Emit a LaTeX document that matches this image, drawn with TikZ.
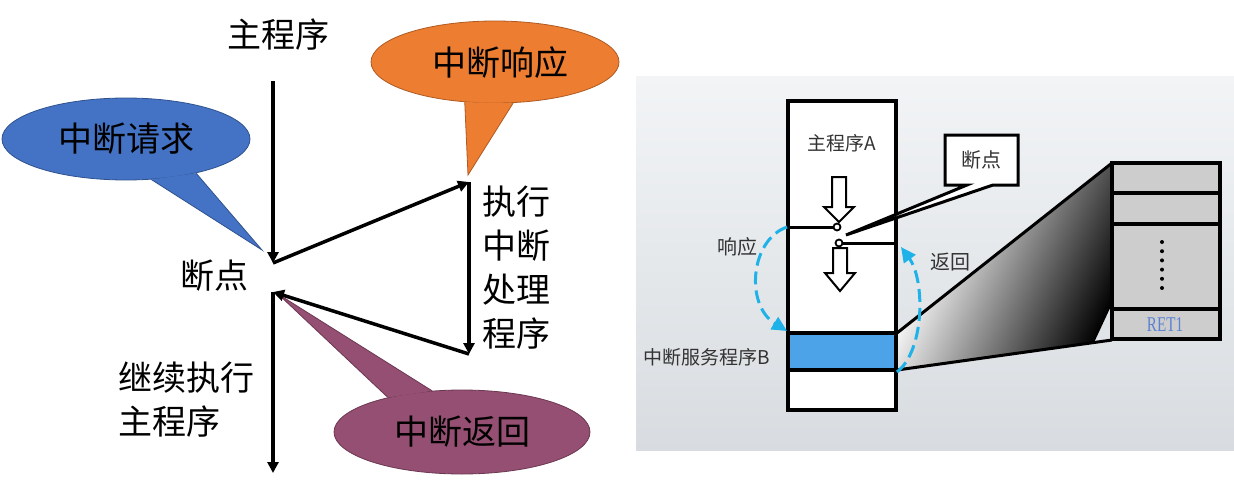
\documentclass[tikz,border=0pt]{standalone}
\usepackage{fontspec}
\setmainfont{Liberation Serif}
\newfontfamily\cjk{Noto Sans CJK SC}
\usetikzlibrary{arrows.meta,shapes.geometric}
\definecolor{bblue}{HTML}{4472C4}
\definecolor{bblueD}{HTML}{2F528F}
\definecolor{borange}{HTML}{ED7D31}
\definecolor{borangeD}{HTML}{AE5A21}
\definecolor{bpurple}{HTML}{954F72}
\definecolor{bpurpleD}{HTML}{6B3852}
\definecolor{isrblue}{HTML}{4DA3E8}
\definecolor{dashcyan}{HTML}{1FB2E8}
\definecolor{stackgray}{HTML}{CDCDCD}
\definecolor{panelTop}{HTML}{F2F4F6}
\definecolor{panelBot}{HTML}{D8DCE0}
\definecolor{rettext}{HTML}{5A82D2}
\definecolor{rtext}{HTML}{333333}
\begin{document}
\begin{tikzpicture}[x=1pt,y=-1pt,
  flow/.style={line width=3.5pt,-{Triangle[length=11pt,width=11pt]}},
  bubble/.style={ellipse,inner sep=0pt,minimum width=248pt,minimum height=82pt,line width=0.8pt,font=\cjk\fontsize{34pt}{40pt}\selectfont},
  bigtext/.style={font=\cjk\fontsize{34pt}{44pt}\selectfont,inner sep=0pt,align=left},
  smalltext/.style={font=\cjk\fontsize{19pt}{22pt}\selectfont,inner sep=0pt,text=rtext},
  thick4/.style={line width=4pt},
  thick3/.style={line width=3pt},
  hollowarrow/.style={line width=2pt,fill=white,line join=miter},
  dasharc/.style={dashcyan,line width=3pt,dash pattern=on 13pt off 6pt,-{Triangle[length=15pt,width=14pt]}},
]
\useasboundingbox (0,0) rectangle (1234,487);

%% ---------------- left part ----------------
\node[bubble,fill=bblue,draw=bblueD] (req) at (126,139) {};
\path[fill=bblue,draw=bblueD,line width=0.8pt] (req.-58) -- (262,250) -- (req.-26);
\node[bigtext] (reqt) at (126,139) {中断请求};

\node[bubble,fill=borange,draw=borangeD] (resp) at (495,62) {};
\path[fill=borange,draw=borangeD,line width=0.8pt] (resp.-127) -- (468,175) -- (resp.-66);
\node[bigtext] (respt) at (500,63) {中断响应};

\node[bubble,fill=bpurple,draw=bpurpleD,minimum width=256pt,minimum height=84pt] (ret) at (462,432) {};
\path[fill=bpurple,draw=bpurpleD,line width=0.8pt] (ret.155) -- (278,294) -- (ret.126);
\node[bigtext] (rett) at (462,432) {中断返回};

\node[bigtext] (main) at (278,35) {主程序};
\node[bigtext] (bpt) at (214,276) {断点};
\node[bigtext,anchor=west] (cont) at (118,400) {继续执行\\主程序};
\node[bigtext] (exec) at (516,268) {执行\\中断\\处理\\程序};

\coordinate (mtop) at (273,81);
\coordinate (bp1) at (273,263);
\coordinate (hs) at (469,182);
\coordinate (he) at (469,354);
\coordinate (bp2) at (273,292);
\coordinate (mend) at (273,473);
\draw[flow] (mtop) -- (bp1);
\draw[flow] (bp1) -- (hs);
\draw[flow] (hs) -- (he);
\draw[flow] (he) -- (bp2);
\draw[flow] (bp2) -- (mend);

%% ---------------- right part ----------------
\shade[top color=panelTop,bottom color=panelBot] (636,77) rectangle (1234,450);

% gradient funnel
\coordinate (fa) at (897,333);
\coordinate (fb) at (1112,163);
\coordinate (fc) at (1112,340);
\coordinate (fd) at (897,370);
\begin{scope}
  \clip (fa) -- (fb) -- (fc) -- (fd) -- cycle;
  \begin{scope}[transform canvas={rotate around={-25:(1005,266)}}]
    \shade[left color=white,right color=black] (928,20) rectangle (1118,510);
  \end{scope}
\end{scope}
\draw[thick3] (fa) -- (fb);
\draw[thick3] (fd) -- (fc);

% column
\fill[white] (788,101) rectangle (896,410);
\fill[isrblue] (788,333) rectangle (896,370);
\draw[thick4] (788,333) -- (896,333);
\draw[thick4] (788,370) -- (896,370);
\draw[thick4] (788,101) rectangle (896,410);

% break lines and circles
\coordinate (c1) at (837,227);
\coordinate (c2) at (839,243);
\draw[thick3] (788,227) -- (833.5,227);
\draw[thick3] (842.5,243) -- (896,243);
\draw[line width=1.8pt,fill=white] (c1) circle (3.5pt);
\draw[line width=1.8pt,fill=white] (c2) circle (3.5pt);

% hollow arrows
\draw[hollowarrow] (832,177) -- (846,177) -- (846,207) -- (854,207) -- (839,222) -- (824,207) -- (832,207) -- cycle;
\draw[hollowarrow] (833,248) -- (847,248) -- (847,273) -- (855,273) -- (840,291) -- (825,273) -- (833,273) -- cycle;

% callout 断点
\draw[thick3,fill=white,line join=miter] (945,135) -- (1018,135) -- (1018,185) -- (993,185) -- (846,235) -- (967,185) -- (945,185) -- cycle;
\node[smalltext,font=\cjk\fontsize{20pt}{22pt}\selectfont] (bdt) at (981,160) {断点};

% texts
\node[smalltext] (pa) at (842,143) {主程序A};
\node[smalltext,font=\cjk\fontsize{20pt}{22pt}\selectfont] (xy) at (737,247) {响应};
\node[smalltext,font=\cjk\fontsize{20pt}{22pt}\selectfont] (fh) at (950,262) {返回};
\node[smalltext] (isr) at (707,357) {中断服务程序B};

% dashed arcs
\draw[dasharc] (787,227) .. controls (750,240) and (745,305) .. (787,331);
\draw[dasharc] (897,372) .. controls (925,350) and (925,280) .. (901,247);

% stack
\draw[thick4,fill=stackgray] (1112,163) rectangle (1220,339);
\draw[thick4] (1112,193) -- (1220,193);
\draw[thick4] (1112,224) -- (1220,224);
\draw[thick4] (1112,309) -- (1220,309);
\foreach \yy in {242,251.2,260.4,269.6,278.8,288} {\fill (1162,\yy) circle (2pt);}
\node[inner sep=0pt,text=rettext,font=\fontsize{21pt}{21pt}\selectfont,xscale=0.72] (ret1) at (1165,325) {RET1};
\end{tikzpicture}
\end{document}
